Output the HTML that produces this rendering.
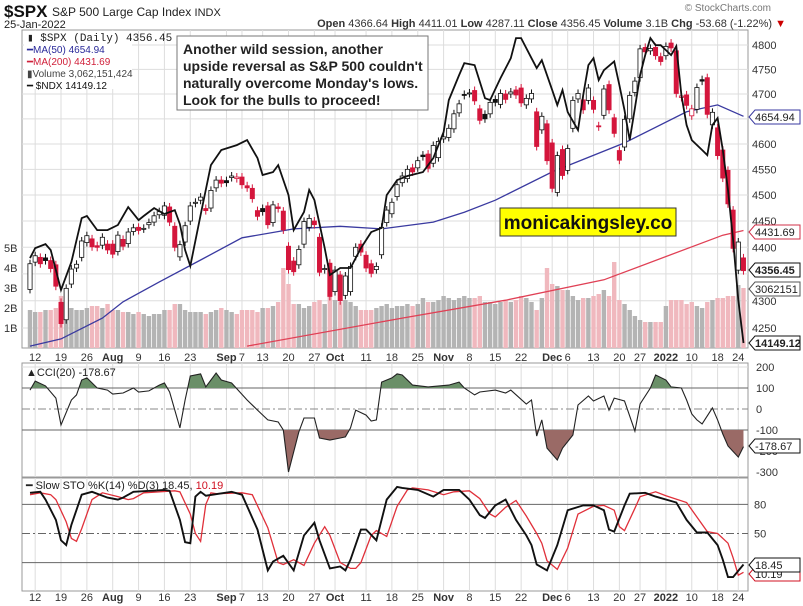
<!DOCTYPE html>
<html><head><meta charset="utf-8"><style>
body{margin:0;background:#fff;}
svg{display:block;font-family:"Liberation Sans",sans-serif;}
</style></head><body>
<svg id="c" width="803" height="606" viewBox="0 0 803 606" xmlns="http://www.w3.org/2000/svg">
<rect width="803" height="606" fill="#fff"/>
<text x="4" y="17" font-size="17" font-weight="bold" fill="#111">$SPX</text>
<text x="52" y="16" font-size="12" fill="#222">S&amp;P 500 Large Cap Index <tspan font-size="11">INDX</tspan></text>
<text x="4" y="28" font-size="11" fill="#222">25-Jan-2022</text>
<text x="771" y="11" font-size="10" fill="#777" text-anchor="end">© StockCharts.com</text>
<text x="786" y="27" font-size="11" fill="#333" text-anchor="end"><tspan font-weight="bold">Open</tspan> 4366.64 <tspan font-weight="bold">High</tspan> 4411.01 <tspan font-weight="bold">Low</tspan> 4287.11 <tspan font-weight="bold">Close</tspan> 4356.45 <tspan font-weight="bold">Volume</tspan> 3.1B <tspan font-weight="bold">Chg</tspan> -53.68 (-1.22%) <tspan fill="#c00">▼</tspan></text>
<g id="grid"></g>
<g id="vol"></g>
<g id="ma"></g>
<g id="candles"></g>
<g id="ndx"></g>
<g id="cci"></g>
<g id="sto"></g>
<g id="axes"></g>
<g>
<rect x="24" y="31" width="108" height="58" fill="#fff"/>
<text x="27" y="41" font-size="11" font-family="Liberation Mono,monospace" fill="#222">▮ $SPX (Daily) 4356.45</text>
<text x="27" y="53" font-size="10" fill="#2a2a9a">━MA(50) 4654.94</text>
<text x="27" y="65" font-size="10" fill="#d0203a">━MA(200) 4431.69</text>
<text x="27" y="77" font-size="10" fill="#444">▮Volume 3,062,151,424</text>
<text x="27" y="89" font-size="10" fill="#111">━ $NDX 14149.12</text>
</g>
<g>
<rect x="177" y="36" width="251" height="74" fill="#fff" stroke="#777"/>
<text x="183" y="54" font-size="14" font-weight="bold" fill="#222">Another wild session, another</text>
<text x="183" y="71" font-size="14" font-weight="bold" fill="#222">upside reversal as S&amp;P 500 couldn't</text>
<text x="183" y="88" font-size="14" font-weight="bold" fill="#222">naturally overcome Monday's lows.</text>
<text x="183" y="105" font-size="14" font-weight="bold" fill="#222">Look for the bulls to proceed!</text>
</g>
<g>
<rect x="500" y="208" width="176" height="28" fill="#ffff00" stroke="#333"/>
<text x="588" y="229" font-size="19" font-weight="bold" fill="#111" text-anchor="middle">monicakingsley.co</text>
</g>
</svg>
<script>
const dateLabels=["12","19","26","Aug","9","16","23","Sep","7","13","20","27","Oct","11","18","25","Nov","8","15","22","Dec","6","13","20","27","2022","10","18","24"];
const dateIdx=[1,6,11,16,21,26,31,38,41,45,50,55,59,65,70,75,80,85,90,95,101,104,109,114,118,123,128,133,137];
const dateBold=[0,0,0,1,0,0,0,1,0,0,0,0,1,0,0,0,1,0,0,0,1,0,0,0,0,1,0,0,0];
const closes=[4369,4384,4369,4375,4360,4327,4258,4323,4359,4368,4412,4422,4401,4400,4419,4395,
4387,4423,4402,4429,4437,4432,4436,4447,4460,4468,4479,4448,4400,4405,4441,4479,4486,4496,4470,4509,4529,4523,
4524,4537,4535,4520,4514,4493,4459,4468,4443,4481,4474,4433,4358,4354,4396,4449,4455,4443,4353,4360,4308,
4357,4300,4346,4364,4400,4391,4361,4351,4364,4438,4471,4486,4520,4537,4550,4545,4567,4575,4552,4597,4605,
4614,4631,4660,4680,4697,4702,4686,4647,4650,4683,4683,4701,4689,4704,4698,4682,4691,4701,4595,4655,4567,
4513,4577,4538,4591,4687,4701,4668,4712,4669,4634,4710,4668,4621,4568,4649,4697,4726,4792,4786,4793,4778,4766,
4797,4794,4701,4696,4677,4670,4713,4726,4659,4663,4577,4533,4483,4398,4410,4356];
const opens=[4321,4372,4381,4380,4375,4367,4297,4265,4331,4361,4381,4409,4416,4403,4404,4406,
4406,4392,4415,4407,4430,4438,4435,4443,4448,4462,4461,4477,4440,4382,4410,4450,4484,4490,4474,4475,4514,4529,
4528,4534,4532,4535,4518,4513,4470,4474,4479,4447,4477,4469,4402,4374,4367,4406,4438,4450,4419,4358,4370,
4317,4348,4310,4317,4383,4406,4385,4369,4358,4386,4447,4464,4497,4524,4532,4553,4553,4578,4580,4562,4573,
4610,4613,4630,4662,4699,4701,4707,4670,4659,4660,4689,4679,4700,4700,4708,4712,4678,4690,4664,4628,4640,
4602,4505,4589,4548,4631,4690,4688,4687,4687,4636,4657,4719,4652,4587,4594,4650,4703,4733,4795,4788,4795,4776,
4778,4804,4788,4693,4698,4656,4669,4729,4733,4638,4632,4588,4548,4471,4357,4380];
const volumes=[1.9,1.8,1.8,1.9,1.9,2.0,2.6,2.2,2.0,1.9,1.9,2.0,2.1,2.1,2.0,2.2,
1.9,1.9,1.8,1.8,1.7,1.8,1.7,1.6,1.7,1.7,1.9,1.9,2.2,2.2,1.9,1.8,1.8,1.8,1.7,1.8,1.9,2.0,
1.9,1.8,1.7,1.9,1.9,1.9,1.8,2.0,2.0,2.1,2.3,4.0,3.2,2.2,2.2,2.0,2.1,2.3,2.4,2.2,2.6,
2.4,2.3,2.4,2.3,2.1,1.9,1.9,1.9,2.0,2.1,2.2,2.0,2.1,2.1,2.2,2.1,2.2,2.5,2.3,2.3,2.4,
2.6,2.5,2.4,2.5,2.6,2.5,2.5,2.6,2.3,2.3,2.2,2.3,2.4,2.3,2.4,2.6,2.5,2.3,1.9,2.5,4.0,
3.2,3.1,2.9,2.9,2.6,2.4,2.5,2.5,2.6,2.7,2.9,2.6,4.3,2.4,2.2,1.9,1.6,1.4,1.3,1.3,1.3,1.3,
2.1,2.4,2.4,2.4,2.2,2.3,2.1,2.0,2.3,2.4,2.5,2.5,2.6,2.6,3.15,3.0];
const ma50Idx=[0,6,14,18,25,33,41,51,60,68,78,84,90,101,115,127,133,138];
const ma50Val=[4217,4230,4268,4298,4335,4376,4418,4435,4440,4435,4448,4467,4490,4545,4602,4664,4678,4655];
const ma200Idx=[42,72,92,111,134,138];
const ma200Val=[4217,4268,4301,4339,4423,4432];
const ndxIdx=[0,1,3,4,5,6,8,10,11,13,15,17,19,21,22,24,26,28,29,30,31,33,35,37,40,42,44,45,47,48,50,51,53,54,55,57,58,60,62,64,66,68,69,71,73,76,78,80,81,83,84,86,88,89,91,93,94,95,97,98,99,101,102,103,104,106,107,108,109,110,111,113,114,115,116,117,118,119,120,121,122,124,125,126,127,128,130,131,132,133,134,135,136,137,138];
const ndxVal=[14822,14901,14933,14886,14727,14569,14791,15139,15155,15044,15044,15084,15226,15123,15155,15218,15171,15202,15091,14886,14759,15163,15559,15678,15717,15757,15614,15480,15503,15559,15321,15044,15187,15361,15282,14901,14688,14743,14743,14901,15028,15060,15321,15440,15472,15503,15614,15820,16074,16272,16367,16351,16089,16074,16248,16406,16565,16565,16406,16327,16390,16153,16034,16153,15979,15836,16113,16351,16406,16232,16311,16380,16192,15994,15757,16010,16272,16430,16565,16509,16509,16430,16501,16113,15876,15757,15678,15638,15876,15931,15678,15361,14965,14490,14149];
const cciIdx=[0,1,3,5,6,8,9,10,11,13,15,16,18,20,21,23,25,26,27,29,30,31,33,34,36,37,39,42,44,46,48,49,50,52,53,55,56,58,60,61,62,63,65,66,67,68,70,71,72,74,77,81,83,84,86,87,90,92,93,96,97,98,99,100,102,103,105,106,108,109,111,112,113,115,117,118,120,121,123,124,126,127,128,129,130,132,133,134,135,137,138];
const cciVal=[90,133,110,52,-76,43,67,138,148,100,90,71,76,100,81,86,114,124,81,-90,43,157,167,105,171,138,124,43,-5,-52,-62,-100,-300,-110,-43,-43,-138,-148,-138,-133,-90,-5,-29,-57,-52,128,148,167,162,114,105,114,128,100,67,81,90,76,90,24,43,-129,-52,-186,-243,-186,-124,19,62,38,62,-5,52,38,-105,24,100,162,138,105,100,43,-24,-52,-71,5,-52,-119,-176,-229,-179];
const stoKIdx=[0,2,3,5,6,7,8,10,12,15,17,18,20,26,27,29,30,31,32,33,34,39,41,44,46,47,49,51,53,55,56,58,60,61,62,64,65,67,69,71,72,75,78,80,83,85,87,88,90,92,94,96,97,98,100,102,104,107,109,111,112,113,115,116,119,121,125,127,129,131,133,134,135,136,138];
const stoKVal=[92,93,85,64,43,38,59,90,93,87,85,87,93,95,94,64,41,40,88,93,89,93,90,54,12,21,27,12,48,61,43,14,16,12,23,54,54,43,85,98,97,95,88,95,95,85,69,66,79,85,64,48,38,18,12,38,74,79,79,74,54,52,79,91,92,88,82,64,51,51,38,23,5,5,18];
const stoDIdx=[0,2,4,5,7,8,9,10,12,14,17,19,20,22,28,29,31,32,33,34,35,36,41,43,46,48,49,51,53,55,57,58,60,62,63,64,66,67,69,71,73,74,77,80,82,85,87,89,90,92,94,96,98,99,100,102,104,106,109,111,113,114,115,117,118,121,123,127,129,131,133,135,136,137,138];
const stoDVal=[90,92,90,85,62,45,42,55,85,92,88,85,86,92,94,93,70,50,42,80,92,91,92,90,56,20,18,23,17,40,57,48,20,14,14,20,48,53,47,78,95,97,95,90,93,94,86,70,67,77,84,68,50,40,22,13,35,70,78,79,74,57,53,76,88,93,89,82,67,52,50,40,25,7,10];

const NS="http://www.w3.org/2000/svg";
const X0=22,X1=748;
const px=i=>30+i*5.17;
const py=p=>45+Math.log(4800/p)*2325;
const ndxY=v=>343-(v-14149)*0.1262;
const volY=b=>348-b*20;
const cciY=v=>409-v*0.21;
const stoY=v=>582-v*0.97;
function mk(parent,tag,attrs){const e=document.createElementNS(NS,tag);for(const k in attrs)e.setAttribute(k,attrs[k]);document.getElementById(parent).appendChild(e);return e;}
function poly(idx,vals,fy){return idx.map((d,k)=>px(d).toFixed(1)+","+fy(vals[k]).toFixed(1)).join(" ");}

const panels=[[30,348],[363,477],[478,591]];
panels.forEach((p,k)=>{
  const r=mk('grid','rect',{x:X0,y:p[0],width:X1-X0,height:p[1]-p[0],fill:'#fff',stroke:'#999'});
  
  
  dateIdx.forEach(d=>{
    const l=mk('grid','line',{x1:px(d),x2:px(d),y1:p[0],y2:p[1],stroke:'#ddd'});
    
    
  });
});
for(let p=4250;p<=4800;p+=50){
  const l=mk('grid','line',{x1:X0,x2:X1,y1:py(p),y2:py(p),stroke:'#ddd'});
  
  
  if(p!==4350&&p!==4650){
    const t=mk('axes','text',{x:752,y:py(p)+4,'font-size':11,fill:'#333'});t.textContent=p;
    
    
  }
}
[1,2,3,4,5].forEach(b=>{
  const t=mk('axes','text',{x:4,y:volY(b)+4,'font-size':11,fill:'#333'});t.textContent=b+'B';
  
  
});
[357,597].forEach(yy=>{
  dateLabels.forEach((s,k)=>{
    const t=mk('axes','text',{x:px(dateIdx[k]),y:yy+4,'font-size':11,fill:'#333','text-anchor':'middle','font-weight':dateBold[k]?'bold':'normal'});
    t.textContent=s;
    
    
  });
});
volumes.forEach((v,i)=>{
  const up=i===0||closes[i]>=closes[i-1];
  const r=mk('vol','rect',{x:px(i)-2.2,y:volY(v),width:4.4,height:348-volY(v),fill:up?'#b4b4b4':'#f0b8be'});
  
  
});
const m50=mk('ma','polyline',{points:poly(ma50Idx,ma50Val,py),fill:'none',stroke:'#3a3aa0','stroke-width':1.3});


const m200=mk('ma','polyline',{points:poly(ma200Idx,ma200Val,py),fill:'none',stroke:'#e04055','stroke-width':1.3});


closes.forEach((c,i)=>{
  const o=opens[i];
  const red=i>0&&c<closes[i-1];
  const col=red?'#d4163c':'#111';
  const top=py(Math.max(o,c)),bot=py(Math.min(o,c));
  const w=mk('candles','line',{x1:px(i),x2:px(i),y1:top-4,y2:bot+4,stroke:col,'stroke-width':1});
  
  
  const r=mk('candles','rect',{x:px(i)-2.1,y:top,width:4.2,height:Math.max(1,bot-top),fill:c>=o?'#fff':col,stroke:col,'stroke-width':0.8});
  
  
});
const nl=mk('ndx','polyline',{points:poly(ndxIdx,ndxVal,ndxY),fill:'none',stroke:'#111','stroke-width':1.8});


[[200,0],[100,1],[0,2],[-100,1]].forEach(a=>{
  const l=mk('cci','line',{x1:X0,x2:X1,y1:cciY(a[0]),y2:cciY(a[0]),stroke:a[1]===1?'#666':(a[1]===2?'#888':'#ddd'),'stroke-dasharray':a[1]===2?'8,3,2,3':'none'});
  
  
});
const cpts=poly(cciIdx,cciVal,cciY);
const x0=px(cciIdx[0]),x1=px(cciIdx[cciIdx.length-1]);
const defs=mk('cci','defs',{});
const cp1=document.createElementNS(NS,'clipPath');cp1.setAttribute('id','cA');defs.appendChild(cp1);
const r1=document.createElementNS(NS,'rect');r1.setAttribute('x',X0);r1.setAttribute('y',363);r1.setAttribute('width',X1-X0);r1.setAttribute('height',cciY(100)-363);cp1.appendChild(r1);
const cp2=document.createElementNS(NS,'clipPath');cp2.setAttribute('id','cB');defs.appendChild(cp2);
const r2=document.createElementNS(NS,'rect');r2.setAttribute('x',X0);r2.setAttribute('y',cciY(-100));r2.setAttribute('width',X1-X0);r2.setAttribute('height',477-cciY(-100));cp2.appendChild(r2);
const fa=mk('cci','polygon',{points:cpts+` ${x1},${cciY(100)} ${x0},${cciY(100)}`,fill:'#6a8f68','clip-path':'url(#cA)'});


const fb=mk('cci','polygon',{points:cpts+` ${x1},${cciY(-100)} ${x0},${cciY(-100)}`,fill:'#9a6a66','clip-path':'url(#cB)'});


const cl=mk('cci','polyline',{points:cpts,fill:'none',stroke:'#222','stroke-width':1.1});


[200,100,0,-100,-200,-300].forEach(v=>{
  const t=mk('axes','text',{x:756,y:cciY(v)+4,'font-size':11,fill:'#333'});t.textContent=v;
  
  
});
const ct=mk('axes','text',{x:26,y:376,'font-size':11,fill:'#222'});ct.textContent='▲CCI(20) -178.67';


[[80,1],[50,2],[20,1]].forEach(a=>{
  const l=mk('sto','line',{x1:X0,x2:X1,y1:stoY(a[0]),y2:stoY(a[0]),stroke:'#666','stroke-dasharray':a[1]===2?'8,3,2,3':'none'});
  
  
});
const sd=mk('sto','polyline',{points:poly(stoDIdx,stoDVal,stoY),fill:'none',stroke:'#e0303a','stroke-width':1.3});


const sk=mk('sto','polyline',{points:poly(stoKIdx,stoKVal,stoY),fill:'none',stroke:'#111','stroke-width':1.9});


[80,50].forEach(v=>{
  const t=mk('axes','text',{x:754,y:stoY(v)+4,'font-size':11,fill:'#333'});t.textContent=v;
  
  
});
const st=mk('axes','text',{x:26,y:489,'font-size':11,fill:'#222'});
st.innerHTML='━ Slow STO %K(14) %D(3) 18.45, <tspan fill="#d01020">10.19</tspan>';


function tag(y,txt,col,bold,name){
  const g=document.createElementNS(NS,'g');document.getElementById('axes').appendChild(g);
  
  
  const p=document.createElementNS(NS,'polygon');
  p.setAttribute('points',`749,${y} 755,${y-7} 800,${y-7} 800,${y+7} 755,${y+7}`);
  p.setAttribute('fill','#fff');p.setAttribute('stroke',col);g.appendChild(p);
  const t=document.createElementNS(NS,'text');t.setAttribute('x',755);t.setAttribute('y',y+4);
  t.setAttribute('font-size',11);t.setAttribute('fill','#222');if(bold)t.setAttribute('font-weight','bold');
  t.textContent=txt;g.appendChild(t);
}
tag(117,'4654.94','#3a3aa0',false,'ma50-value-tag');
tag(232,'4431.69','#d0304a',false,'ma200-value-tag');
tag(289,'3062151','#555',false,'volume-value-tag');
tag(270,'4356.45','#111',true,'price-value-tag');
tag(343,'14149.12','#111',true,'ndx-value-tag');
tag(446,'-178.67','#111',false,'cci-value-tag');
tag(574,'10.19','#d01020',false,'sto-d-value-tag');
tag(565,'18.45','#111',false,'sto-k-value-tag');
</script>
</body></html>
